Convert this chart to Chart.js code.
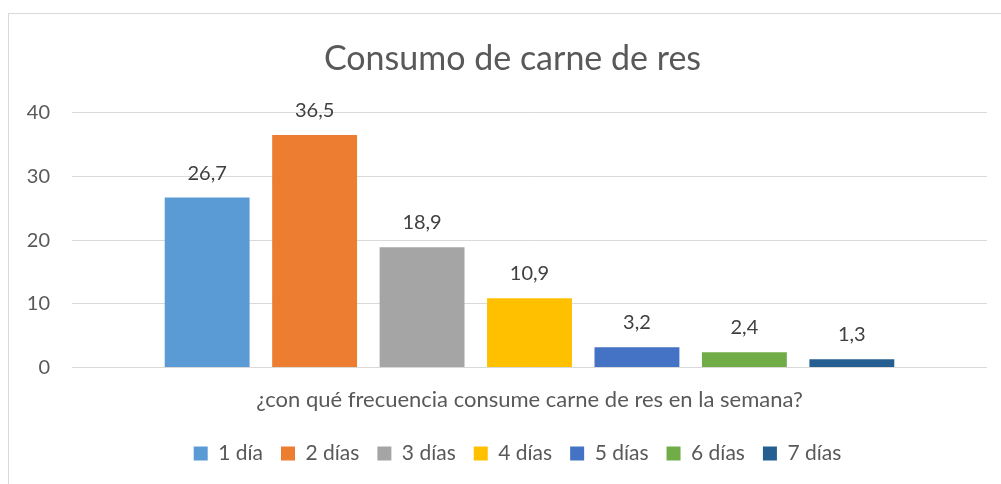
<!DOCTYPE html>
<html>
<head>
<meta charset="utf-8">
<script src="https://cdn.jsdelivr.net/npm/chart.js@4.4.1/dist/chart.umd.min.js"></script>
<style>
  body { margin: 0; background: #fff; }
  #wrap { position: relative; width: 1001px; height: 484px; overflow: hidden; }
  #frame { position: absolute; left: 8px; top: 13px; width: 1100px; height: 600px;
           border: 1px solid #d9d9d9; pointer-events: none; }
</style>
</head>
<body>
<div id="wrap">
  <canvas id="chart" width="1001" height="484"></canvas>
  <div id="frame"></div>
</div>
<script>
const categories = ['¿con qué frecuencia consume carne de res en la semana?']
const seriesNames = ['1 día', '2 días', '3 días', '4 días', '5 días', '6 días', '7 días']
const seriesValues = [26.7, 36.5, 18.9, 10.9, 3.2, 2.4, 1.3]
const seriesColors = ['#5B9BD5', '#ED7D31', '#A5A5A5', '#FFC000', '#4472C4', '#70AD47', '#255E91']
const yTicks = [0, 10, 20, 30, 40]

const FONT = 'Lato, "Open Sans", sans-serif'
const GREY = '#595959'

// labels like Excel: comma decimal, above each bar
const valueLabels = {
    id: 'valueLabels',
    afterDatasetsDraw(chart){
        const ctx = chart.ctx
        ctx.save()
        ctx.font = '20px ' + FONT
        ctx.fillStyle = '#404040'
        ctx.textAlign = 'center'
        ctx.textBaseline = 'alphabetic'
        chart.data.datasets.forEach((ds, i) => {
            const meta = chart.getDatasetMeta(i)
            meta.data.forEach((bar, j) => {
                const txt = ds.data[j].toFixed(1).replace('.', ',')
                ctx.fillText(txt, bar.x, bar.y - 18)
            })
        })
        ctx.restore()
    }
}

// the original centres title and legend a bit right of the canvas middle
const shiftBlocks = {
    id: 'shiftBlocks',
    afterLayout(chart){
        if (chart.legend){ chart.legend.left += 24; chart.legend.right += 24 }
        if (chart.titleBlock){ chart.titleBlock.left += 19; chart.titleBlock.right += 19 }
    }
}

new Chart(document.getElementById('chart'), {
    type: 'bar',
    data: {
        labels: categories,
        datasets: seriesNames.map((name, i) => ({
            label: name,
            data: [seriesValues[i]],
            backgroundColor: seriesColors[i],
            categoryPercentage: 0.822,
            barPercentage: 0.79
        }))
    },
    options: {
        responsive: false,
        animation: false,
        layout: { padding: { left: 0, right: 14, top: 0, bottom: 10 } },
        scales: {
            x: {
                grid: { display: false },
                border: { display: false },
                ticks: { display: false },
                title: {
                    display: true,
                    text: categories[0],
                    color: GREY,
                    font: { family: FONT, size: 22 },
                    padding: { top: 11, bottom: 12 }
                }
            },
            y: {
                min: 0,
                max: 40,
                afterBuildTicks: s => { s.ticks = yTicks.map(v => ({ value: v })) },
                afterFit: s => { s.width = 72 },
                grid: { color: '#d9d9d9', drawTicks: false },
                border: { display: false },
                ticks: { color: GREY, font: { family: FONT, size: 20 }, padding: 22 }
            }
        },
        plugins: {
            title: {
                display: true,
                text: 'Consumo de carne de res',
                color: GREY,
                font: { family: FONT, size: 34, weight: 'normal' },
                padding: { top: 39, bottom: 33 }
            },
            legend: {
                position: 'bottom',
                labels: {
                    color: GREY,
                    font: { family: FONT, size: 21 },
                    boxWidth: 14,
                    boxHeight: 14,
                    padding: 18
                }
            },
            tooltip: { enabled: false }
        }
    },
    plugins: [valueLabels, shiftBlocks]
})
</script>
</body>
</html>
